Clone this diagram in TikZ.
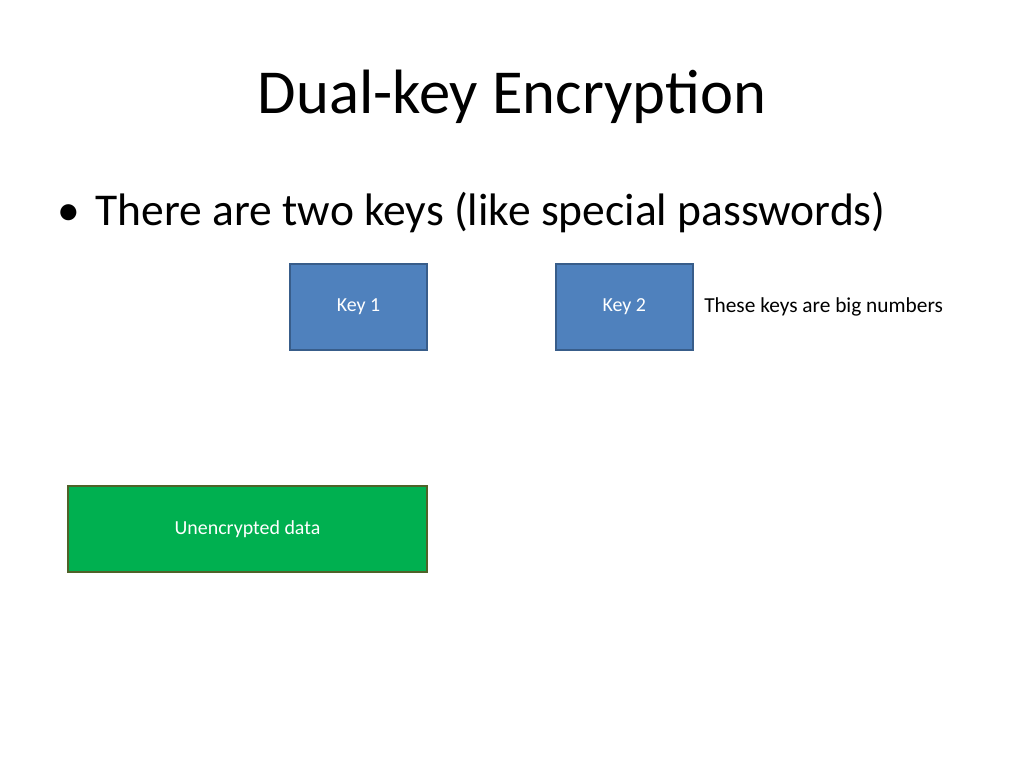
\documentclass[tikz,border=0pt]{standalone}
\usepackage{fontspec}
\setmainfont{Carlito}
\usetikzlibrary{positioning}
\definecolor{keyblue}{HTML}{4F81BD}
\definecolor{keyedge}{HTML}{385D8A}
\definecolor{datagreen}{HTML}{00B050}
\definecolor{dataedge}{HTML}{4F6228}
\begin{document}
\begin{tikzpicture}[
    x=0.703pt, y=-0.703pt,
    % Styles
    keybox/.style={
        draw=keyedge,
        line width=1.2pt,
        fill=keyblue,
        text=white,
        minimum width=137*0.703pt,
        minimum height=86*0.703pt,
        font=\fontsize{14}{16}\selectfont
    },
    databox/.style={
        keybox,
        draw=dataedge,
        fill=datagreen,
        minimum width=359*0.703pt
    }
]
    \useasboundingbox (0,0) rectangle (1024,768);

    % --- TITLE ---
    \node (title) at (512,97) {\fontsize{44}{50}\selectfont Dual-key Encryption};

    % --- BULLET ---
    \node[anchor=west] (bullet) at (52,213)
        {\fontsize{32}{38}\selectfont\textbullet\hspace{0.35em}There are two keys (like special passwords)};

    % --- KEYS ---
    \node[keybox] (key1) at (358.5,307) {Key 1};
    \node[keybox, right=127*0.703pt of key1] (key2) {Key 2};
    \node[right=4pt of key2, font=\fontsize{15}{18}\selectfont] (note) {These keys are big numbers};

    % --- DATA ---
    \node[databox] (data) at (247.5,529) {Unencrypted data};
\end{tikzpicture}
\end{document}
